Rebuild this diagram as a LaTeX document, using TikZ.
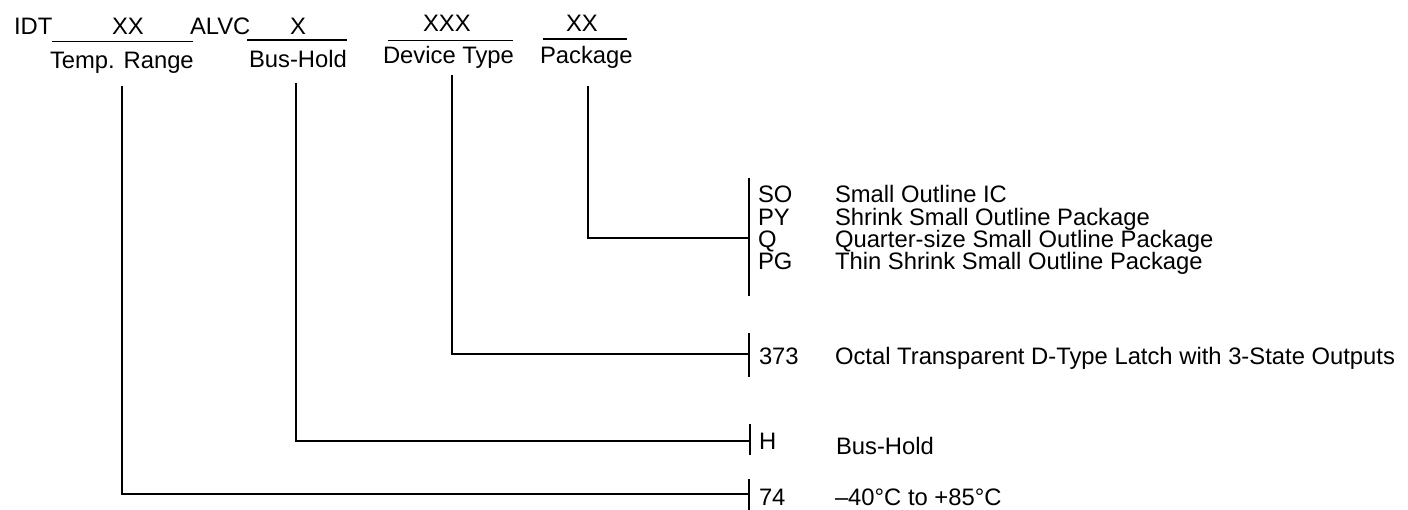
\documentclass[tikz,border=0pt]{standalone}
\usepackage{fontspec}
\setmainfont{Liberation Sans}
\begin{document}
\begin{tikzpicture}[x=1pt,y=-1pt,
  txt/.style={anchor=base west,inner sep=0pt,outer sep=0pt,font=\fontsize{23.8pt}{28pt}\selectfont},
  thin/.style={line width=1.1pt},
  mid/.style={line width=1.5pt},
  thick2/.style={line width=2.2pt}]
\useasboundingbox (0,0) rectangle (1408,510);
% header
\node[txt] (idt) at (14,35) {IDT};
\node[txt] (xx1) at (112,35) {XX};
\node[txt] (alvc) at (190,34.5) {ALVC};
\node[txt] (x1) at (290,34.5) {X};
\node[txt] (xxx) at (423,32) {XXX};
\node[txt] (xx2) at (566,32) {XX};
\coordinate (u1a) at (52,41.7); \coordinate (u1b) at (193,41.7);
\coordinate (u2a) at (247,40); \coordinate (u2b) at (347,40);
\coordinate (u3a) at (388,40.7); \coordinate (u3b) at (513,40.7);
\coordinate (u4a) at (543,39); \coordinate (u4b) at (627,39);
\draw[thin] (u1a) -- (u1b);
\draw[thick2] (u2a) -- (u2b);
\draw[thin] (u3a) -- (u3b);
\draw[thin] (u4a) -- (u4b);
\node[txt] (temp) at (50,69) {Temp. Range};
\node[txt] (bush) at (249,68) {Bus-Hold};
\node[txt] (devt) at (383,64) {Device Type};
\node[txt] (pack) at (540,64) {Package};
% vertical starts
\coordinate (tTop) at (122,86);
\coordinate (bTop) at (296,83);
\coordinate (dTop) at (452,75);
\coordinate (pTop) at (588,86);
% bars
\coordinate (pBarA) at (749,178); \coordinate (pBarB) at (749,296);
\coordinate (dBarA) at (749,333); \coordinate (dBarB) at (749,377);
\coordinate (hBarA) at (750,424); \coordinate (hBarB) at (750,455);
\coordinate (tBarA) at (749,479); \coordinate (tBarB) at (749,510);
\coordinate (pEnd) at (749,238);
\coordinate (dEnd) at (749,354);
\coordinate (hEnd) at (750,441);
\coordinate (tEnd) at (749,494);
\draw[thin] (pBarA) -- (pBarB);
\draw[thin] (dBarA) -- (dBarB);
\draw[thick2] (hBarA) -- (hBarB);
\draw[thin] (tBarA) -- (tBarB);
% connectors
\draw[thin] (pTop) |- (pEnd);
\draw[thin] (dTop) |- (dEnd);
\draw[thick2] (bTop) |- (hEnd);
\draw[mid] (tTop) |- (tEnd);
% package codes
\node[txt] (so) at (758,203) {SO};
\node[txt] (py) at (758,225.5) {PY};
\node[txt] (q) at (758,247.7) {Q};
\node[txt] (pg) at (758,270) {PG};
\node[txt] (sod) at (835,203) {Small Outline IC};
\node[txt] (pyd) at (835,225.5) {Shrink Small Outline Package};
\node[txt] (qd) at (835,247.7) {Quarter-size Small Outline Package};
\node[txt] (pgd) at (835,270) {Thin Shrink Small Outline Package};
% device
\node[txt] (c373) at (759,365) {373};
\node[txt] (c373d) at (835,365) {Octal Transparent D-Type Latch with 3-State Outputs};
% bus-hold
\node[txt] (ch) at (759,449) {H};
\node[txt] (chd) at (836,454) {Bus-Hold};
% temp
\node[txt] (c74) at (759,505) {74};
\node[txt] (c74d) at (835,505) {–40°C to +85°C};
\end{tikzpicture}
\end{document}
